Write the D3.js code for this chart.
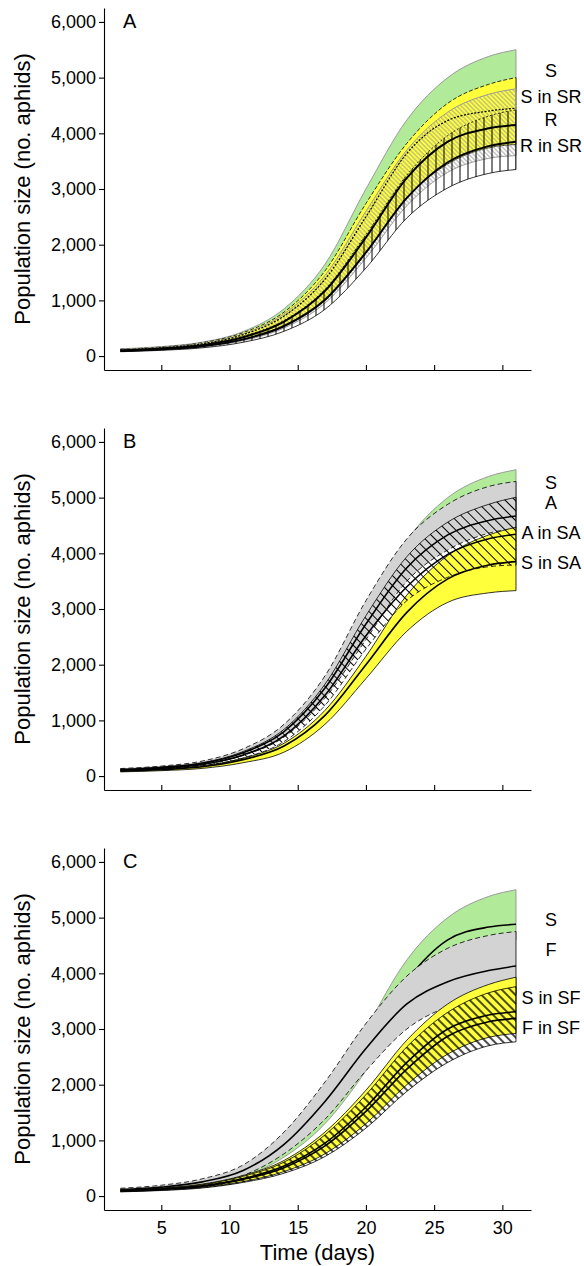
<!DOCTYPE html>
<html><head><meta charset="utf-8">
<script src="https://cdn.jsdelivr.net/npm/d3@7"></script>
<style>body{margin:0;background:#fff} text{font-family:"Liberation Sans",Arial,sans-serif;fill:#000}</style>
</head><body><svg id="c" width="584" height="1266"></svg>
<script>
// ---------- data ----------
const days   = [2,5,8,11,14,17,20,23,26,29,31];
const xTicks = [5,10,15,20,25,30];
const yTicks = [0,1000,2000,3000,4000,5000,6000];

// Panel A (S, S in SR, R, R in SR)
const A_S_up      = [130,170,250,440,850,1650,3000,4240,5000,5380,5500];
const A_S_lo      = [110,145,210,370,700,1350,2450,3600,4300,4650,4750];
const A_SinSR_up  = [122,162,240,420,790,1530,2740,3820,4540,4880,5000];
const A_SinSR_mn  = [110,148,220,385,720,1380,2500,3640,4230,4400,4450];
const A_SinSR_lo  = [88,118,172,290,530,1000,1850,2850,3450,3740,3800];
const A_R_up      = [117,155,228,398,760,1450,2600,3700,4380,4700,4800];
const A_R_mn      = [100,134,196,338,620,1170,2130,3200,3850,4090,4150];
const A_R_lo      = [85,113,165,278,505,950,1760,2700,3300,3550,3600];
const A_RinSR_up  = [105,140,205,355,640,1200,2180,3250,3960,4310,4420];
const A_RinSR_mn  = [92,121,176,300,540,1010,1860,2840,3480,3770,3850];
const A_RinSR_lo  = [78,103,148,248,445,840,1580,2480,3020,3280,3350];
const A_labels    = ["S","S in SR","R","R in SR"];
const A_labelVals = [5110,4650,4240,3770];

// Panel B (S, A, A in SA, S in SA)
const B_S_up      = [130,170,250,440,850,1650,3000,4240,5000,5380,5500];
const B_S_lo      = [115,155,230,420,800,1580,2730,3740,4330,4590,4670];
const B_A_up      = [135,180,270,490,930,1800,3150,4260,4880,5200,5290];
const B_A_mn      = [115,155,230,420,800,1580,2730,3740,4330,4590,4670];
const B_A_lo      = [100,135,205,370,700,1400,2450,3500,4060,4360,4450];
const B_AinSA_up  = [120,162,240,440,840,1650,2880,3940,4560,4880,5006];
const B_AinSA_mn  = [105,140,210,380,720,1450,2520,3400,3980,4260,4342];
const B_AinSA_lo  = [92,122,182,325,620,1270,2280,3150,3570,3760,3790];
const B_SinSA_up  = [100,128,185,320,590,1180,2150,3250,3960,4330,4467];
const B_SinSA_mn  = [88,115,168,295,540,1090,2000,2940,3540,3790,3850];
const B_SinSA_lo  = [75,97,138,240,430,930,1750,2600,3120,3290,3330];
const B_labels    = ["S","A","A in SA","S in SA"];
const B_labelVals = [5260,4900,4365,3825];

// Panel C (S, F, S in SF, F in SF)
const C_S_up      = [130,170,250,440,850,1650,3000,4240,5000,5380,5500];
const C_S_mn      = [108,147,225,405,790,1500,2700,3870,4600,4830,4880];
const C_S_lo      = [88,123,190,350,700,1300,2250,3400,4150,4480,4600];
const C_F_up      = [140,195,310,560,1150,2050,3100,3950,4450,4680,4750];
const C_F_mn      = [115,160,255,460,930,1700,2650,3450,3850,4050,4130];
const C_F_lo      = [95,130,205,370,760,1380,2250,3000,3400,3570,3620];
const C_SinSF_up  = [110,145,215,370,640,1150,1900,2800,3450,3800,3930];
const C_SinSF_mn  = [95,125,185,315,540,950,1600,2400,3000,3250,3310];
const C_SinSF_lo  = [80,105,155,260,440,760,1300,2000,2550,2850,2920];
const C_FinSF_up  = [105,140,205,355,610,1100,1820,2680,3300,3650,3760];
const C_FinSF_mn  = [90,120,175,300,510,900,1520,2280,2870,3130,3190];
const C_FinSF_lo  = [75,100,145,245,410,710,1220,1880,2400,2700,2770];
const C_labels    = ["S","F","S in SF","F in SF"];
const C_labelVals = [4960,4420,3560,3020];

// ---------- drawing ----------
const GREEN = "#b1ea99", YELLOW = "#ffff3c", GRAY = "#d3d3d3";
const svg = d3.select("#c");
const defs = svg.append("defs");
function pat(id, w, color, sw, rot) {
  const p = defs.append("pattern").attr("id", id).attr("patternUnits", "userSpaceOnUse")
    .attr("width", w).attr("height", w);
  if (rot) p.attr("patternTransform", `rotate(${rot})`);
  p.append("line").attr("x1", w/2).attr("x2", w/2).attr("y1", 0).attr("y2", w)
    .attr("stroke", color).attr("stroke-width", sw);
}
pat("hg", 3.2, "#9c9c9c", 0.9, -45);
pat("hv", 8, "#000", 1, 0);
pat("hb", 7, "#000", 1, -45);
pat("hc", 6, "#000", 1.4, -45);

const x = d3.scaleLinear().domain([0.8, 32.1]).range([104, 531]);
const last = days.length - 1;

function panel(top, letter, layers, labels, labelVals, showX) {
  const y = d3.scaleLinear().domain([-250, 6250]).range([top + 370, top + 8]);
  const g = svg.append("g");
  const line = d3.line().x((d, i) => x(days[i])).y(d => y(d)).curve(d3.curveMonotoneX);
  const area = d3.area().x((d, i) => x(days[i])).y0(d => y(d[1])).y1(d => y(d[0])).curve(d3.curveMonotoneX);

  layers.forEach(L => {
    if (L.type === "band") {
      g.append("path").datum(L.up.map((u, i) => [u, L.lo[i]])).attr("d", area)
        .attr("fill", L.fill).attr("stroke", "none");
      [[L.up, L.upDash], [L.lo, L.loDash]].forEach(([arr, dash]) => {
        g.append("path").attr("d", line(arr)).attr("fill", "none")
          .attr("stroke", L.edge).attr("stroke-width", L.w)
          .attr("stroke-dasharray", dash || null);
      });
      g.append("line").attr("x1", x(days[last])).attr("x2", x(days[last]))
        .attr("y1", y(L.up[last])).attr("y2", y(L.lo[last]))
        .attr("stroke", L.edge).attr("stroke-width", L.w);
    } else {
      g.append("path").attr("d", line(L.v)).attr("fill", "none")
        .attr("stroke", L.color || "#000").attr("stroke-width", L.w)
        .attr("stroke-dasharray", L.dash || null);
    }
  });

  // axes
  const ya = g.append("g").attr("transform", "translate(104,0)")
    .call(d3.axisLeft(y).tickValues(yTicks).tickFormat(d3.format(",")).tickSize(5).tickSizeOuter(0).tickPadding(3));
  const xa = g.append("g").attr("transform", `translate(0,${top + 370})`)
    .call(d3.axisBottom(x).tickValues(xTicks).tickSize(-5).tickSizeOuter(0).tickPadding(11)
      .tickFormat(showX ? d3.format("d") : () => ""));
  [ya, xa].forEach(a => {
    a.selectAll("text").attr("font-size", 18).attr("font-family", "Liberation Sans, Arial, sans-serif").attr("fill", "#000");
    a.selectAll("path,line").attr("stroke", "#000").attr("stroke-width", 1.1);
  });

  g.append("text").attr("transform", `translate(22,${top + 189}) rotate(-90)`)
    .attr("text-anchor", "middle").attr("dominant-baseline", "central")
    .attr("font-size", 22).text("Population size (no. aphids)");
  g.append("text").attr("x", 123).attr("y", top + 28).attr("font-size", 20).text(letter);

  labels.forEach((t, i) => {
    g.append("text").attr("x", 551).attr("y", y(labelVals[i]))
      .attr("text-anchor", "middle").attr("dominant-baseline", "central")
      .attr("font-size", 18).text(t);
  });
}

panel(0, "A", [
  {type: "band", up: A_S_up, lo: A_S_lo, fill: GREEN, edge: "#9a9a9a", w: 1},
  {type: "band", up: A_SinSR_up, lo: A_SinSR_lo, fill: YELLOW, edge: "#000", w: 0.8, upDash: "4,2"},
  {type: "band", up: A_R_up, lo: A_R_lo, fill: "url(#hg)", edge: "#9a9a9a", w: 1},
  {type: "band", up: A_RinSR_up, lo: A_RinSR_lo, fill: "url(#hv)", edge: "#000", w: 0.8, upDash: "2,2"},
  {type: "line", v: A_SinSR_mn, w: 1.2, dash: "2,1.5"},
  {type: "line", v: A_R_mn, w: 2},
  {type: "line", v: A_RinSR_mn, w: 2}
], A_labels, A_labelVals, false);

panel(420, "B", [
  {type: "band", up: B_S_up, lo: B_S_lo, fill: GREEN, edge: "#9a9a9a", w: 1},
  {type: "band", up: B_A_up, lo: B_A_lo, fill: GRAY, edge: "#000", w: 0.8, upDash: "5,3", loDash: "5,3"},
  {type: "band", up: B_SinSA_up, lo: B_SinSA_lo, fill: YELLOW, edge: "#000", w: 0.8},
  {type: "band", up: B_AinSA_up, lo: B_AinSA_lo, fill: "url(#hb)", edge: "#000", w: 0.8, loDash: "5,3"},
  {type: "line", v: B_A_mn, w: 1.6},
  {type: "line", v: B_AinSA_mn, w: 1.6},
  {type: "line", v: B_SinSA_mn, w: 1.6}
], B_labels, B_labelVals, false);

panel(840, "C", [
  {type: "band", up: C_S_up, lo: C_S_lo, fill: GREEN, edge: "#9a9a9a", w: 1},
  {type: "line", v: C_S_mn, w: 1.6},
  {type: "band", up: C_F_up, lo: C_F_lo, fill: GRAY, edge: "#000", w: 0.8, upDash: "5,3", loDash: "5,3"},
  {type: "line", v: C_F_mn, w: 1.6},
  {type: "band", up: C_SinSF_up, lo: C_SinSF_lo, fill: YELLOW, edge: "#000", w: 0.8},
  {type: "band", up: C_FinSF_up, lo: C_FinSF_lo, fill: "url(#hc)", edge: "#000", w: 0.8},
  {type: "line", v: C_SinSF_mn, w: 1.6},
  {type: "line", v: C_FinSF_mn, w: 1.6}
], C_labels, C_labelVals, true);

svg.append("text").attr("x", 317.5).attr("y", 1260).attr("text-anchor", "middle")
  .attr("font-size", 22).text("Time (days)");
</script></body></html>
